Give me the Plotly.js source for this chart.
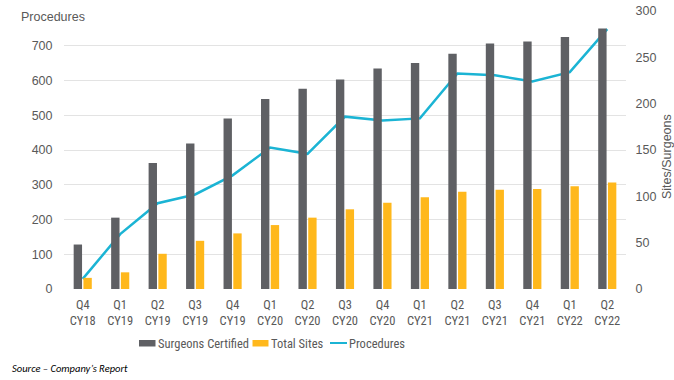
<!DOCTYPE html>
<html>
<head>
<meta charset="utf-8">
<script src="https://cdn.plot.ly/plotly-3.0.1.min.js"></script>
<style>html,body{margin:0;padding:0;background:#fff;}#chart{width:674px;height:380px;}</style>
</head>
<body>
<div id="chart"></div>
<script>
// ---- data ----
const quarters = ["Q4","Q1","Q2","Q3","Q4","Q1","Q2","Q3","Q4","Q1","Q2","Q3","Q4","Q1","Q2"];
const years    = ["CY18","CY19","CY19","CY19","CY19","CY20","CY20","CY20","CY20","CY21","CY21","CY21","CY21","CY22","CY22"];
const surgeonsCertified = [48, 77, 136, 157, 184, 205, 216, 226, 238, 244, 254, 265, 267, 272, 281];
const totalSites        = [12, 18, 38, 52, 60, 69, 77, 86, 93, 99, 105, 107, 108, 111, 115];
const procedures        = [29, 158, 247, 272, 327, 407, 389, 496, 485, 491, 620, 615, 597, 624, 748];
const leftTicks  = [0, 100, 200, 300, 400, 500, 600, 700, 800];
const rightTicks = [0, 50, 100, 150, 200, 250, 300];
const seriesNames = ["Surgeons Certified", "Total Sites", "Procedures"];

const categories = quarters.map((q, i) => q + "<br>" + years[i]);

const C_DARK = "#5f6064", C_GOLD = "#ffb81c", C_CYAN = "#1bb4d4";
const TXT = "#595959";
const COND = "'Roboto Condensed', 'Liberation Sans', Arial, sans-serif";
const SANS = "'Liberation Sans', Arial, sans-serif";

// layout geometry helpers (pixel -> paper)
const M = {l: 64, r: 48, t: 11, b: 91};
const W = 674, H = 380;
const PW = W - M.l - M.r, PH = H - M.t - M.b;
const px = x => (x - M.l) / PW;
const py = y => (H - M.b - y) / PH;

const traces = [
  {type: "bar", name: seriesNames[0], x: categories, y: surgeonsCertified, yaxis: "y2",
   marker: {color: C_DARK}, showlegend: false},
  {type: "bar", name: seriesNames[1], x: categories, y: totalSites, yaxis: "y2",
   marker: {color: C_GOLD}, showlegend: false},
  {type: "scatter", mode: "lines", name: seriesNames[2], x: categories, y: procedures, yaxis: "y",
   line: {color: C_CYAN, width: 2.5}, showlegend: false}
];

const legendY = py(343);
const shapes = [
  // cover the top gridline behind the "Procedures" title
  {type: "rect", xref: "paper", yref: "paper", layer: "between", x0: px(58), x1: px(108), y0: py(6), y1: py(16),
   fillcolor: "#ffffff", line: {width: 0}},
  // legend swatches
  {type: "rect", xref: "paper", yref: "paper", x0: px(139), x1: px(155.5), y0: py(346.5), y1: py(340), fillcolor: C_DARK, line: {width: 0}},
  {type: "rect", xref: "paper", yref: "paper", x0: px(252.5), x1: px(268.5), y0: py(346.5), y1: py(340), fillcolor: C_GOLD, line: {width: 0}},
  {type: "line", xref: "paper", yref: "paper", x0: px(330), x1: px(347), y0: legendY, y1: legendY, line: {color: C_CYAN, width: 2}}
];

const annotations = [
  {text: "Procedures", xref: "paper", yref: "paper", x: px(19), y: py(17), xanchor: "left", yanchor: "middle",
   showarrow: false, font: {family: SANS, size: 12.5, color: TXT}},
  {text: "Sites/Surgeons", xref: "paper", yref: "paper", x: px(667), y: py(157), xanchor: "center", yanchor: "middle",
   textangle: -90, showarrow: false, font: {family: SANS, size: 12.5, color: TXT}},
  {text: seriesNames[0], xref: "paper", yref: "paper", x: px(156), y: legendY, xanchor: "left", yanchor: "middle",
   showarrow: false, font: {family: COND, size: 12.5, color: TXT}},
  {text: seriesNames[1], xref: "paper", yref: "paper", x: px(268.5), y: legendY, xanchor: "left", yanchor: "middle",
   showarrow: false, font: {family: COND, size: 12.5, color: TXT}},
  {text: seriesNames[2], xref: "paper", yref: "paper", x: px(347), y: legendY, xanchor: "left", yanchor: "middle",
   showarrow: false, font: {family: COND, size: 12.5, color: TXT}},
  {text: "<i>Source – Company’s Report</i>", xref: "paper", yref: "paper", x: px(10), y: py(368), xanchor: "left", yanchor: "middle",
   showarrow: false, font: {family: "Carlito, 'Open Sans', sans-serif", size: 10.5, color: "#000"}}
];

const layout = {
  width: W, height: H,
  margin: M,
  paper_bgcolor: "#fff", plot_bgcolor: "#fff",
  barmode: "group", bargap: 0.48, bargroupgap: 0.14,
  showlegend: false,
  font: {family: SANS, color: TXT},
  xaxis: {type: "category", showgrid: false, zeroline: false, showline: false,
          ticks: "outside", ticklen: 4, tickcolor: "rgba(0,0,0,0)",
          tickfont: {family: COND, size: 12.5, color: TXT}, automargin: false},
  yaxis: {range: [0, 800], tickvals: leftTicks, ticktext: leftTicks.map(v => v === 800 ? "" : String(v)),
          showgrid: true, gridcolor: "#e3e3e3", gridwidth: 1, zeroline: false, showline: false,
          ticks: "outside", ticklen: 8, tickcolor: "rgba(0,0,0,0)",
          tickfont: {family: SANS, size: 12.5, color: TXT}, automargin: false},
  yaxis2: {range: [0, 300], tickvals: rightTicks, overlaying: "y", side: "right",
           showgrid: false, zeroline: false, showline: false,
           ticks: "outside", ticklen: 6, tickcolor: "rgba(0,0,0,0)",
           tickfont: {family: SANS, size: 12.5, color: TXT}, automargin: false},
  shapes: shapes,
  annotations: annotations
};

Plotly.newPlot("chart", traces, layout, {displayModeBar: false, staticPlot: true});
</script>
</body>
</html>
